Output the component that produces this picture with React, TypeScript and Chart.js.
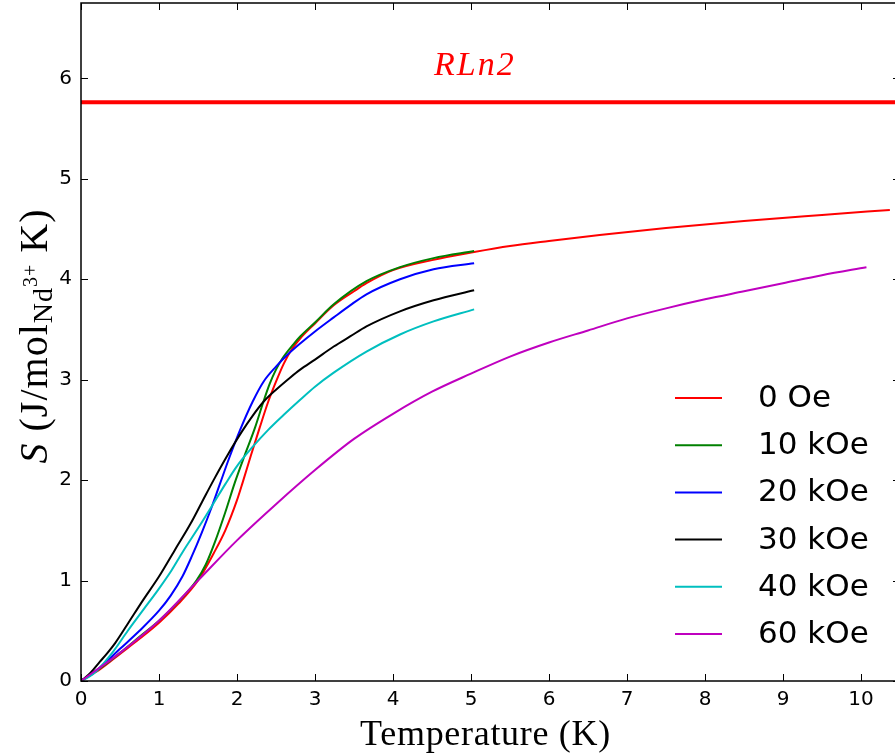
import React, { useEffect, useRef } from "react";
import { Chart, registerables } from "chart.js";

Chart.register(...registerables);

// ---------- data ----------
const xTickValues = [0, 1, 2, 3, 4, 5, 6, 7, 8, 9, 10];
const yTickValues = [0, 1, 2, 3, 4, 5, 6];
const X_MIN = 0;
const X_MAX = 10.5;
const Y_MIN = 0;
const Y_MAX = 6.75;

const seriesLabels = ["0 Oe", "10 kOe", "20 kOe", "30 kOe", "40 kOe", "60 kOe"];
const seriesColors = ["#ff0000", "#008000", "#0000ff", "#000000", "#00bfbf", "#bf00bf"];

const T_0Oe = [0, 0.25, 0.5, 0.75, 1.0, 1.25, 1.5, 1.7, 1.85, 2.0, 2.07, 2.18, 2.29, 2.4, 2.5, 2.6, 2.7, 2.81, 3.0, 3.24, 3.5, 3.66, 4.0, 4.5, 5.04, 5.5, 6.0, 6.65, 7.5, 8.5, 9.5, 10.37];
const S_0Oe = [0, 0.12, 0.27, 0.42, 0.58, 0.77, 1.0, 1.27, 1.5, 1.8, 1.97, 2.25, 2.52, 2.78, 2.98, 3.16, 3.3, 3.41, 3.56, 3.74, 3.88, 3.96, 4.09, 4.19, 4.27, 4.33, 4.38, 4.44, 4.51, 4.58, 4.64, 4.69];

const T_10kOe = [0, 0.25, 0.5, 0.75, 1.0, 1.25, 1.48, 1.6, 1.72, 1.85, 1.97, 2.1, 2.23, 2.33, 2.42, 2.5, 2.59, 2.72, 2.81, 3.0, 3.24, 3.66, 4.09, 4.52, 5.04];
const S_10kOe = [0, 0.13, 0.28, 0.44, 0.6, 0.79, 1.0, 1.16, 1.39, 1.68, 1.97, 2.25, 2.52, 2.76, 2.96, 3.1, 3.22, 3.35, 3.43, 3.57, 3.75, 3.98, 4.12, 4.21, 4.28];

const T_20kOe = [0, 0.25, 0.5, 0.75, 1.0, 1.15, 1.3, 1.42, 1.55, 1.67, 1.78, 1.9, 2.04, 2.2, 2.34, 2.5, 2.65, 2.81, 3.0, 3.24, 3.45, 3.66, 4.09, 4.52, 5.04];
const S_20kOe = [0, 0.14, 0.32, 0.5, 0.7, 0.85, 1.04, 1.24, 1.48, 1.72, 1.96, 2.22, 2.5, 2.78, 2.98, 3.13, 3.25, 3.36, 3.48, 3.62, 3.74, 3.85, 4.0, 4.1, 4.16];

const T_30kOe = [0, 0.12, 0.24, 0.34, 0.44, 0.6, 0.8, 1.0, 1.2, 1.4, 1.55, 1.7, 1.88, 2.06, 2.2, 2.34, 2.5, 2.68, 2.81, 3.0, 3.24, 3.45, 3.66, 4.09, 4.52, 5.04];
const S_30kOe = [0, 0.08, 0.19, 0.28, 0.38, 0.57, 0.81, 1.04, 1.3, 1.56, 1.78, 2.0, 2.25, 2.48, 2.64, 2.78, 2.9, 3.02, 3.1, 3.2, 3.33, 3.43, 3.53, 3.68, 3.79, 3.89];

const T_40kOe = [0, 0.1, 0.2, 0.4, 0.6, 0.8, 1.0, 1.16, 1.3, 1.5, 1.7, 1.85, 2.0, 2.2, 2.4, 2.6, 2.81, 3.0, 3.24, 3.66, 4.09, 4.52, 5.04];
const S_40kOe = [0, 0.04, 0.1, 0.28, 0.5, 0.71, 0.92, 1.1, 1.28, 1.52, 1.77, 1.96, 2.14, 2.33, 2.5, 2.65, 2.8, 2.93, 3.07, 3.28, 3.45, 3.58, 3.7];

const T_60kOe = [0, 0.5, 1.0, 1.5, 2.0, 2.5, 3.0, 3.5, 4.0, 4.5, 5.0, 5.5, 6.0, 6.5, 7.0, 7.5, 8.0, 8.5, 9.0, 9.5, 10.07];
const S_60kOe = [0, 0.28, 0.6, 1.0, 1.4, 1.76, 2.1, 2.41, 2.66, 2.88, 3.06, 3.23, 3.37, 3.49, 3.61, 3.71, 3.8, 3.88, 3.96, 4.04, 4.12];

const seriesT = [T_0Oe, T_10kOe, T_20kOe, T_30kOe, T_40kOe, T_60kOe];
const seriesS = [S_0Oe, S_10kOe, S_20kOe, S_30kOe, S_40kOe, S_60kOe];

const RLN2_VALUE = 5.763;
const RLN2_LABEL = "RLn2";
const RLN2_LABEL_X = 5.05;
const RLN2_LABEL_Y = 6.03;

const X_TITLE = "Temperature (K)";

// ---------- layout constants ----------
const CANVAS_W = 910;
const CANVAS_H = 756;
const LEFT_AXIS_W = 81;
const BOTTOM_AXIS_H = 75;
const PAD_TOP = 3;
const PAD_RIGHT = 10;

const SERIF = "'Liberation Serif', 'Times New Roman', serif";
const SANS = "'DejaVu Sans', sans-serif";

const decorPlugin = {
  id: "decor",
  afterDatasetsDraw(chart: any) {
    const ctx: CanvasRenderingContext2D = chart.ctx;
    const { left, right, top, bottom } = chart.chartArea;
    const xs = chart.scales.x;
    const ys = chart.scales.y;
    ctx.save();

    // RLn2 label
    ctx.fillStyle = "#ff0000";
    ctx.font = `italic 34px ${SERIF}`;
    (ctx as any).letterSpacing = "2px";
    ctx.textAlign = "center";
    ctx.textBaseline = "alphabetic";
    ctx.fillText(RLN2_LABEL, xs.getPixelForValue(RLN2_LABEL_X), ys.getPixelForValue(RLN2_LABEL_Y));
    (ctx as any).letterSpacing = "0px";

    // spines
    ctx.strokeStyle = "#000";
    ctx.lineWidth = 1.5;
    ctx.strokeRect(left, top, right - left, bottom - top);

    // inward ticks
    ctx.lineWidth = 1;
    const tl = 7;
    ctx.beginPath();
    for (const t of xs.ticks) {
      const px = Math.round(xs.getPixelForValue(t.value)) + 0.5;
      ctx.moveTo(px, bottom);
      ctx.lineTo(px, bottom - tl);
      ctx.moveTo(px, top);
      ctx.lineTo(px, top + tl);
    }
    for (const t of ys.ticks) {
      const py = Math.round(ys.getPixelForValue(t.value)) + 0.5;
      ctx.moveTo(left, py);
      ctx.lineTo(left + tl, py);
      ctx.moveTo(right, py);
      ctx.lineTo(right - tl, py);
    }
    ctx.stroke();

    // legend
    const legX1 = 675;
    const legX2 = 722;
    const legTextX = 758;
    const legY0 = 398;
    const legDy = 47.2;
    ctx.font = `31px ${SANS}`;
    ctx.textAlign = "left";
    ctx.textBaseline = "middle";
    seriesLabels.forEach((lab, i) => {
      const y = legY0 + i * legDy;
      ctx.strokeStyle = seriesColors[i];
      ctx.lineWidth = 2;
      ctx.beginPath();
      ctx.moveTo(legX1, y);
      ctx.lineTo(legX2, y);
      ctx.stroke();
      ctx.fillStyle = "#000";
      ctx.fillText(lab, legTextX, y + 1);
    });

    // x title
    ctx.fillStyle = "#000";
    ctx.font = `36px ${SERIF}`;
    (ctx as any).letterSpacing = "0.7px";
    ctx.textAlign = "center";
    ctx.textBaseline = "alphabetic";
    ctx.fillText(X_TITLE, (left + right) / 2 - 5, 745);
    (ctx as any).letterSpacing = "0px";

    // y title (rotated, with sub/superscript)
    const segs = [
      { text: "S", font: `italic 40px ${SERIF}`, dy: 0, ls: 1 },
      { text: " (J/mol", font: `40px ${SERIF}`, dy: 0, ls: 1 },
      { text: "Nd", font: `28px ${SERIF}`, dy: 5, ls: 1 },
      { text: "3+", font: `20px ${SERIF}`, dy: -10, ls: 1 },
      { text: " K)", font: `40px ${SERIF}`, dy: 0, ls: 1 },
    ];
    let total = 0;
    const widths: number[] = [];
    for (const s of segs) {
      ctx.font = s.font;
      (ctx as any).letterSpacing = `${s.ls}px`;
      const w = ctx.measureText(s.text).width;
      widths.push(w);
      total += w;
    }
    ctx.translate(47, 336);
    ctx.rotate(-Math.PI / 2);
    ctx.textAlign = "left";
    let cx = -total / 2;
    segs.forEach((s, i) => {
      ctx.font = s.font;
      (ctx as any).letterSpacing = `${s.ls}px`;
      ctx.fillText(s.text, cx, s.dy);
      cx += widths[i];
    });
    (ctx as any).letterSpacing = "0px";

    ctx.restore();
  },
};

export default function App() {
  const ref = useRef<HTMLCanvasElement | null>(null);

  useEffect(() => {
    if (!ref.current) return;
    const datasets: any[] = seriesLabels.map((lab, i) => ({
      label: lab,
      data: seriesT[i].map((t, j) => ({ x: t, y: seriesS[i][j] })),
      borderColor: seriesColors[i],
      backgroundColor: seriesColors[i],
      borderWidth: 2,
      pointRadius: 0,
      fill: false,
      cubicInterpolationMode: "monotone",
      order: seriesLabels.length - i,
    }));
    datasets.push({
      label: "RLn2",
      data: [
        { x: X_MIN, y: RLN2_VALUE },
        { x: X_MAX, y: RLN2_VALUE },
      ],
      borderColor: "#ff0000",
      borderWidth: 4,
      pointRadius: 0,
      fill: false,
      order: 0,
    });

    const chart = new Chart(ref.current, {
      type: "line",
      data: { datasets },
      options: {
        animation: false,
        responsive: false,
        maintainAspectRatio: false,
        layout: { padding: { top: PAD_TOP, right: PAD_RIGHT, left: 0, bottom: 0 } },
        plugins: { legend: { display: false }, tooltip: { enabled: false } },
        scales: {
          x: {
            type: "linear",
            min: X_MIN,
            max: X_MAX,
            grid: { display: false, drawTicks: false, tickLength: 0 },
            border: { display: false },
            ticks: { font: { family: "DejaVu Sans", size: 20 }, color: "#000", padding: 7, maxRotation: 0, includeBounds: false },
            afterBuildTicks: (s: any) => {
              s.ticks = xTickValues.map((v) => ({ value: v }));
            },
            afterFit: (s: any) => {
              s.height = BOTTOM_AXIS_H;
              s.paddingLeft = 0;
              s.paddingRight = 0;
              s.paddingTop = 0;
              s.paddingBottom = 0;
            },
          },
          y: {
            type: "linear",
            min: Y_MIN,
            max: Y_MAX,
            grid: { display: false, drawTicks: false, tickLength: 0 },
            border: { display: false },
            ticks: { font: { family: "DejaVu Sans", size: 20 }, color: "#000", padding: 9, includeBounds: false },
            afterBuildTicks: (s: any) => {
              s.ticks = yTickValues.map((v) => ({ value: v }));
            },
            afterFit: (s: any) => {
              s.width = LEFT_AXIS_W;
              s.paddingTop = 0;
              s.paddingBottom = 0;
              s.paddingLeft = 0;
              s.paddingRight = 0;
            },
          },
        },
      } as any,
      plugins: [decorPlugin],
    });
    return () => chart.destroy();
  }, []);

  return (
    <div style={{ position: "fixed", left: 0, top: 0, width: 895, height: 756, overflow: "hidden", background: "#fff" }}>
      <canvas ref={ref} width={CANVAS_W} height={CANVAS_H} style={{ width: CANVAS_W, height: CANVAS_H, display: "block" }} />
    </div>
  );
}
